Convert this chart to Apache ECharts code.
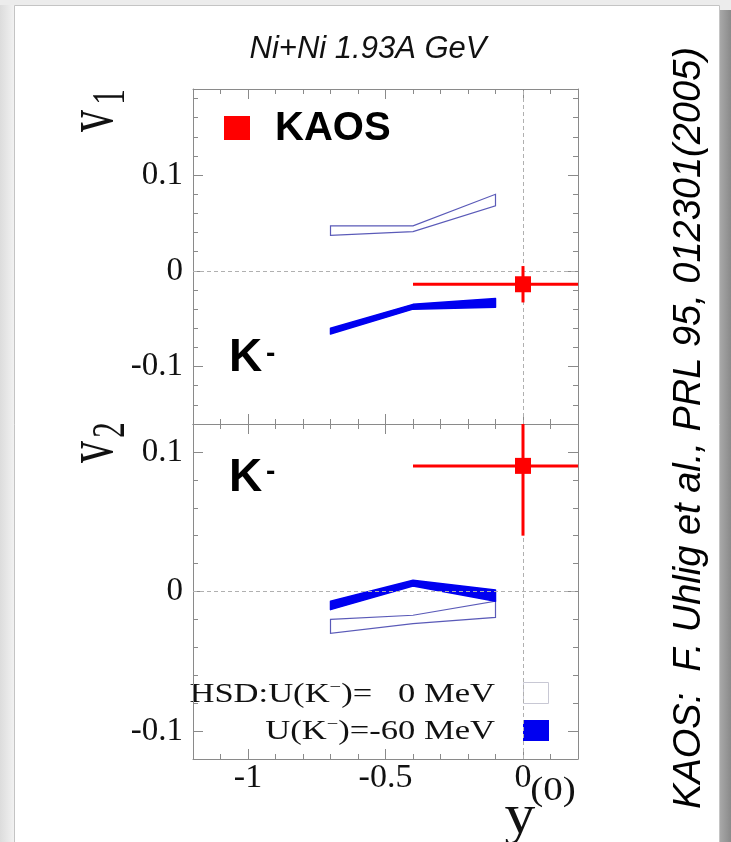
<!DOCTYPE html>
<html><head><meta charset="utf-8">
<script src="https://cdn.jsdelivr.net/npm/echarts@6/dist/echarts.min.js"></script>
<style>html,body{margin:0;padding:0;background:#fff}#c{width:731px;height:842px;background:#fff}</style>
</head><body><div id="c"></div>
<script>
// ---- data ----
const bandX = [-0.7, -0.4, -0.1];            // rapidity y(0) of HSD bands
const v1U0Upper  = [0.047, 0.047, 0.080];    // HSD U(K-)=0 MeV, v1
const v1U0Lower  = [0.037, 0.041, 0.068];
const v1U60Upper = [-0.060, -0.035, -0.029]; // HSD U(K-)=-60 MeV, v1
const v1U60Lower = [-0.066, -0.040, -0.038];
const v2U0Upper  = [-0.020, -0.017, -0.007]; // HSD U(K-)=0 MeV, v2
const v2U0Lower  = [-0.030, -0.023, -0.0185];
const v2U60Upper = [-0.007, 0.008, 0.001];   // HSD U(K-)=-60 MeV, v2
const v2U60Lower = [-0.013, 0.004, -0.007];
const kaosY    = [0.0];     // KAOS rapidity
const kaosYErr = [0.4];
const kaosV1   = [-0.014];
const kaosV1Err= [0.019];
const kaosV2   = [0.09];
const kaosV2Err= [0.05];
const xTicks = [-1, -0.5, 0];
const xTickLabels = ['-1', '-0.5', '0'];
const yTicks = [-0.1, 0, 0.1];
const yTickLabels = ['-0.1', '0', '0.1'];
const xRange = [-1.2, 0.2];
const v1Range = [-0.16, 0.19];
const v2Range = [-0.12, 0.12];

// ---- chart ----
const chart = echarts.init(document.getElementById('c'), null, {renderer: 'canvas'});
const AX = '#8a8a8a';
const SERIF = '"Liberation Serif", "Times New Roman", serif';
const SANS = '"Liberation Sans", Arial, sans-serif';

function xAxes(g) {
  const out = [];
  ['bottom', 'top'].forEach(pos => {
    out.push({
      type: 'value', gridIndex: g, position: pos, min: xRange[0], max: xRange[1],
      axisLine: {show: true, onZero: false, lineStyle: {color: AX, width: 1}},
      axisTick: {show: true, inside: true, length: 10, customValues: xTicks, lineStyle: {color: AX}},
      axisLabel: {show: g === 1 && pos === 'bottom', customValues: xTicks,
        formatter: v => xTickLabels[xTicks.findIndex(t => Math.abs(t - v) < 1e-9)],
        fontFamily: SERIF, fontSize: 34, color: '#111', margin: 2},
      splitLine: {show: false}
    });
    out.push({
      type: 'value', gridIndex: g, position: pos, min: xRange[0], max: xRange[1], interval: 0.1,
      axisLine: {show: false, onZero: false},
      axisTick: {show: true, inside: true, length: 5, lineStyle: {color: AX}},
      axisLabel: {show: false}, splitLine: {show: false}
    });
  });
  return out;
}
function yAxes(g, range) {
  const out = [];
  ['left', 'right'].forEach(pos => {
    out.push({
      type: 'value', gridIndex: g, position: pos, min: range[0], max: range[1],
      axisLine: {show: true, onZero: false, lineStyle: {color: AX, width: 1}},
      axisTick: {show: true, inside: true, length: 10, customValues: yTicks, lineStyle: {color: AX}},
      axisLabel: {show: pos === 'left', customValues: yTicks,
        formatter: v => yTickLabels[yTicks.findIndex(t => Math.abs(t - v) < 1e-9)],
        fontFamily: SERIF, fontSize: 33, color: '#111', margin: 10},
      splitLine: {show: false}
    });
    out.push({
      type: 'value', gridIndex: g, position: pos, min: range[0], max: range[1], interval: 0.02,
      axisLine: {show: false, onZero: false},
      axisTick: {show: true, inside: true, length: 5, lineStyle: {color: AX}},
      axisLabel: {show: false}, splitLine: {show: false}
    });
  });
  return out;
}

function bandSeries(g, lower, upper, filled, withZeroLines) {
  const s = {
    type: 'custom', xAxisIndex: g * 4, yAxisIndex: g * 4, silent: true, z: filled ? 4 : 3,
    data: bandX.map((x, i) => [x, lower[i], upper[i]]),
    renderItem: function (params, api) {
      if (params.dataIndex !== 0) return null;
      const pts = [];
      for (let i = 0; i < bandX.length; i++) pts.push(api.coord([bandX[i], upper[i]]));
      for (let i = bandX.length - 1; i >= 0; i--) pts.push(api.coord([bandX[i], lower[i]]));
      return {type: 'polygon', shape: {points: pts},
        style: filled ? {fill: '#0000f0', stroke: '#0000f0', lineWidth: 1.5, lineJoin: 'round'}
                      : {fill: 'none', stroke: '#5a5ab8', lineWidth: 1.2}};
    }
  };
  if (withZeroLines) {
    s.markLine = {silent: true, symbol: ['none', 'none'], label: {show: false},
      lineStyle: {color: '#b0b0b0', type: [4, 3], width: 1},
      data: [{yAxis: 0}, {xAxis: 0}], animation: false};
  }
  return s;
}
function kaosSeries(g, vals, errs) {
  return {
    type: 'custom', xAxisIndex: g * 4, yAxisIndex: g * 4, silent: true, z: 6,
    data: kaosY.map((x, i) => [x, vals[i], kaosYErr[i], errs[i]]),
    renderItem: function (params, api) {
      const x = api.value(0), y = api.value(1), ex = api.value(2), ey = api.value(3);
      const cs = params.coordSys;
      const cx = v => Math.max(cs.x, Math.min(cs.x + cs.width, v));
      const cy = v => Math.max(cs.y, Math.min(cs.y + cs.height, v));
      const c = api.coord([x, y]);
      const l = api.coord([x - ex, y]), r = api.coord([x + ex, y]);
      const t = api.coord([x, y + ey]), b = api.coord([x, y - ey]);
      return {type: 'group', children: [
        {type: 'line', shape: {x1: cx(l[0]), y1: c[1], x2: cx(r[0]), y2: c[1]}, style: {stroke: '#ff0000', lineWidth: 3}},
        {type: 'line', shape: {x1: c[0], y1: cy(t[1]), x2: c[0], y2: cy(b[1])}, style: {stroke: '#ff0000', lineWidth: 3}},
        {type: 'rect', shape: {x: c[0] - 8, y: c[1] - 8, width: 16, height: 16}, style: {fill: '#ff0000'}}
      ]};
    }
  };
}

function txt(o) {
  const st = Object.assign({fill: '#111'}, o.style);
  if (st.align) st.textAlign = st.align;
  if (st.verticalAlign) st.textVerticalAlign = st.verticalAlign;
  o.style = st;
  o.type = 'text';
  o.silent = true;
  return o;
}
const R90 = Math.PI / 2;
const graphic = [
  // page decoration
  {type: 'rect', silent: true, shape: {x: 0, y: 0, width: 15, height: 842},
   style: {fill: new echarts.graphic.LinearGradient(0, 0, 1, 0, [{offset: 0, color: '#dcdcdc'}, {offset: 1, color: '#f3f3f3'}])}},
  {type: 'rect', silent: true, shape: {x: 0, y: 0, width: 731, height: 5}, style: {fill: '#ececec'}},
  {type: 'rect', silent: true, shape: {x: 14.5, y: 5.5, width: 705, height: 840}, style: {fill: 'none', stroke: '#c4c4c4', lineWidth: 1}},
  {type: 'rect', silent: true, shape: {x: 720, y: 10, width: 11, height: 832},
   style: {fill: new echarts.graphic.LinearGradient(0, 0, 1, 0, [{offset: 0, color: '#a8a8a8'}, {offset: 1, color: '#8a8a8a'}])}},
  {type: 'rect', silent: true, shape: {x: 720, y: 0, width: 11, height: 10}, style: {fill: '#ececec'}},
  // title
  txt({x: 368, y: 49, style: {text: 'Ni+Ni 1.93A GeV', font: 'italic 31px ' + SANS, align: 'center', verticalAlign: 'middle'}}),
  // KAOS legend
  {type: 'rect', silent: true, shape: {x: 224, y: 116, width: 26, height: 24}, style: {fill: '#ff0000'}},
  txt({x: 275, y: 129, style: {text: 'KAOS', font: 'bold 40px ' + SANS, align: 'left', verticalAlign: 'middle', fill: '#000'}}),
  // K- labels
  txt({x: 229, y: 358, style: {text: 'K', font: 'bold 46px ' + SANS, align: 'left', verticalAlign: 'middle', fill: '#000'}}),
  txt({x: 266, y: 354, style: {text: '-', font: 'bold 28px ' + SANS, align: 'left', verticalAlign: 'middle', fill: '#000'}}),
  txt({x: 229, y: 478, style: {text: 'K', font: 'bold 46px ' + SANS, align: 'left', verticalAlign: 'middle', fill: '#000'}}),
  txt({x: 266, y: 472, style: {text: '-', font: 'bold 28px ' + SANS, align: 'left', verticalAlign: 'middle', fill: '#000'}}),
  // HSD legend
  txt({x: 495, y: 695, scaleX: 1.28, style: {text: 'HSD:U(K{s|\u2212})=   0 MeV', font: '27px ' + SERIF, align: 'right', verticalAlign: 'middle',
      rich: {s: {fontSize: 16, fontFamily: SERIF, padding: [0, 0, 14, 0]}}}}),
  txt({x: 495, y: 732, scaleX: 1.28, style: {text: 'U(K{s|\u2212})=-60 MeV', font: '27px ' + SERIF, align: 'right', verticalAlign: 'middle',
      rich: {s: {fontSize: 16, fontFamily: SERIF, padding: [0, 0, 14, 0]}}}}),
  {type: 'rect', silent: true, shape: {x: 523.5, y: 682.5, width: 25, height: 21}, style: {fill: '#fff', stroke: '#c8c8d4', lineWidth: 1}},
  {type: 'rect', silent: true, shape: {x: 523, y: 720, width: 26, height: 21}, style: {fill: '#0000f0'}},
  // axis titles
  txt({x: 94, y: 121, rotation: R90, scaleY: 1.55, style: {text: 'v', font: '44px ' + SERIF, align: 'center', verticalAlign: 'middle'}}),
  txt({x: 112, y: 97, rotation: R90, scaleY: 1.5, style: {text: '1', font: '31px ' + SERIF, align: 'center', verticalAlign: 'middle'}}),
  txt({x: 94, y: 452, rotation: R90, scaleY: 1.55, style: {text: 'v', font: '44px ' + SERIF, align: 'center', verticalAlign: 'middle'}}),
  txt({x: 112, y: 430, rotation: R90, scaleY: 1.5, style: {text: '2', font: '31px ' + SERIF, align: 'center', verticalAlign: 'middle'}}),
  txt({x: 520, y: 818, scaleX: 1.1, style: {text: 'y', font: '56px ' + SERIF, align: 'center', verticalAlign: 'middle'}}),
  txt({x: 553, y: 791, scaleX: 1.15, style: {text: '(0)', font: '34px ' + SERIF, align: 'center', verticalAlign: 'middle'}}),
  // citation
  txt({x: 689, y: 428, rotation: R90, style: {text: 'KAOS:  F. Uhlig et al., PRL 95, 012301(2005)', font: 'italic 38px ' + SANS, align: 'center', verticalAlign: 'middle', fill: '#000'}})
];

const option = {
  animation: false,
  backgroundColor: '#fff',
  grid: [
    {left: 193, top: 89, width: 385, height: 335},
    {left: 193, top: 424, width: 385, height: 335}
  ],
  xAxis: xAxes(0).concat(xAxes(1)),
  yAxis: yAxes(0, v1Range).concat(yAxes(1, v2Range)),
  series: [
    bandSeries(0, v1U0Lower, v1U0Upper, false, true),
    bandSeries(0, v1U60Lower, v1U60Upper, true, false),
    kaosSeries(0, kaosV1, kaosV1Err),
    bandSeries(1, v2U0Lower, v2U0Upper, false, true),
    bandSeries(1, v2U60Lower, v2U60Upper, true, false),
    kaosSeries(1, kaosV2, kaosV2Err)
  ],
  graphic: graphic
};
chart.setOption(option);
</script></body></html>
